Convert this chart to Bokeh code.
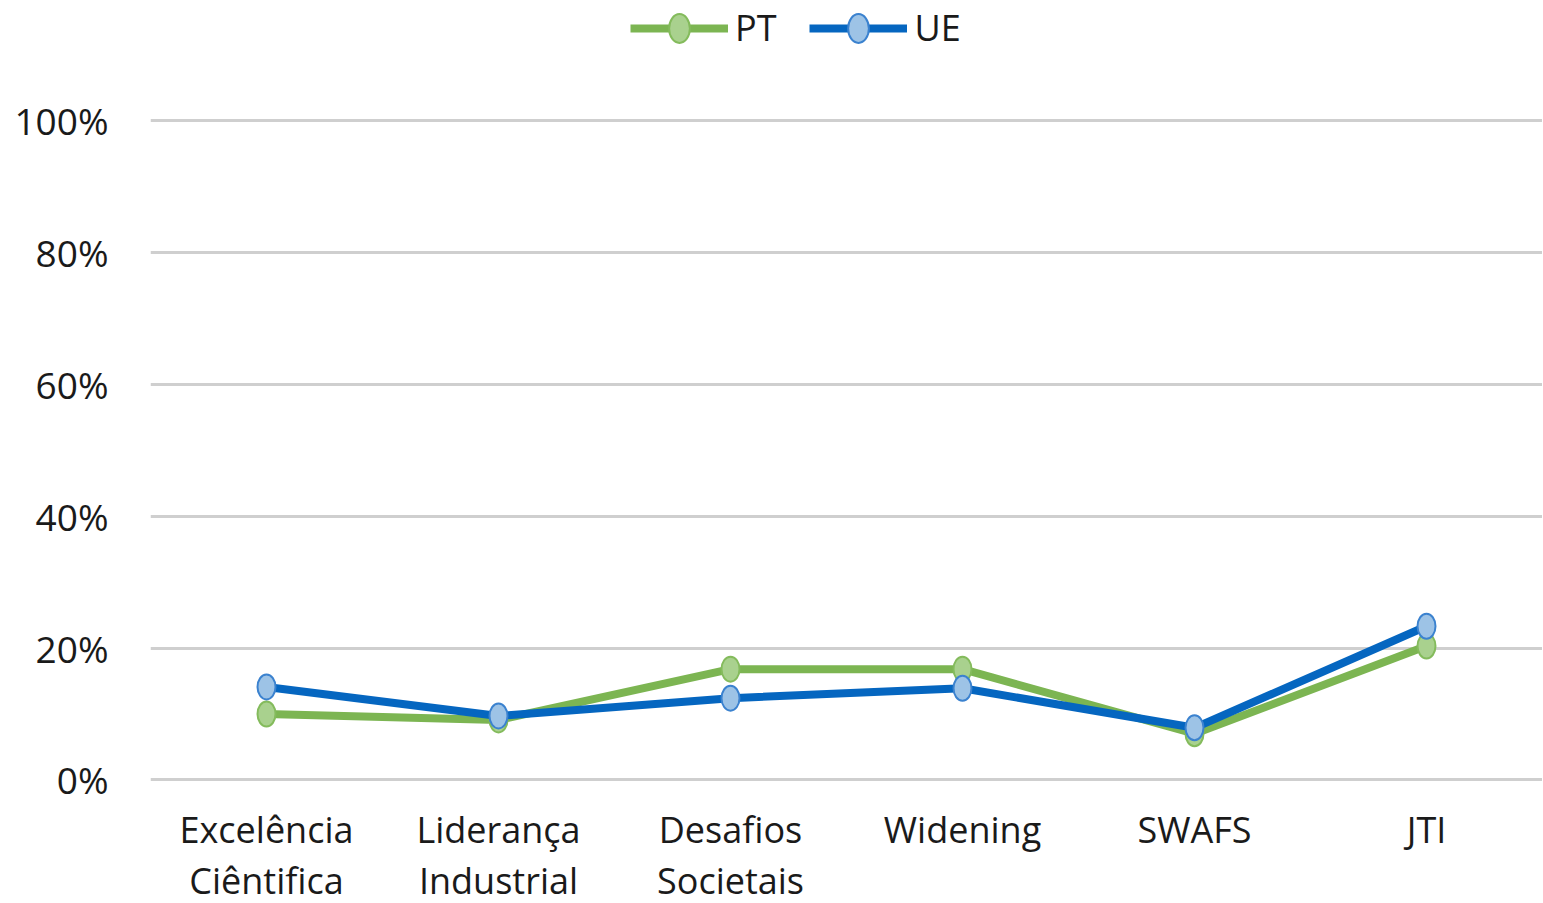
from bokeh.plotting import figure
from bokeh.models import Range1d, FixedTicker, Legend, LegendItem, ColumnDataSource
from bokeh.embed import file_html
from bokeh.resources import INLINE

categories = ["Excelência Ciêntifica", "Liderança Industrial", "Desafios Societais",
              "Widening", "SWAFS", "JTI"]
category_labels = ["Excelência\nCiêntifica", "Liderança\nIndustrial", "Desafios\nSocietais",
                   "Widening", "SWAFS", "JTI"]
pt_values = [0.100, 0.091, 0.168, 0.168, 0.070, 0.203]
ue_values = [0.141, 0.097, 0.124, 0.139, 0.079, 0.233]
y_ticks = [0.0, 0.2, 0.4, 0.6, 0.8, 1.0]
y_tick_labels = ["0%", "20%", "40%", "60%", "80%", "100%"]

FONT = "Open Sans"
TEXT = "#1a1a1a"

xpos = list(range(len(categories)))
src = ColumnDataSource(dict(x=xpos, cat=categories, pt=pt_values, ue=ue_values))

p = figure(x_range=Range1d(-0.5, len(categories) - 0.5), y_range=Range1d(-0.01, 1.182),
           frame_width=1392, frame_height=786,
           min_border_left=150, min_border_right=0, min_border_top=0, min_border_bottom=0,
           output_backend="svg", toolbar_location=None)
p.outline_line_color = None
p.background_fill_color = "white"

p.xgrid.grid_line_color = None
p.ygrid.grid_line_color = "#cfcfcf"
p.ygrid.grid_line_width = 3
p.yaxis.ticker = FixedTicker(ticks=y_ticks)
p.yaxis.major_label_overrides = {t: l for t, l in zip(y_ticks, y_tick_labels)}
p.yaxis.axis_line_color = None
p.yaxis.major_tick_line_color = None
p.yaxis.minor_tick_line_color = None
p.yaxis.major_label_standoff = 36
p.yaxis.major_label_text_font = FONT
p.yaxis.major_label_text_font_size = "37px"
p.yaxis.major_label_text_color = TEXT

p.xaxis.ticker = FixedTicker(ticks=xpos)
p.xaxis.major_label_overrides = {i: l for i, l in zip(xpos, category_labels)}
p.xaxis.axis_line_color = None
p.xaxis.major_tick_line_color = None
p.xaxis.minor_tick_line_color = None
p.xaxis.major_label_standoff = 12
p.xaxis.major_label_text_font = FONT
p.xaxis.major_label_text_font_size = "36px"
p.xaxis.major_label_text_color = TEXT
p.xaxis.major_label_text_line_height = 1.05

PT_LINE, PT_FILL, PT_EDGE = "#7cb552", "#a9d18e", "#84bb5c"
UE_LINE, UE_FILL, UE_EDGE = "#0566c0", "#9dc3e6", "#3b82cf"

pt_line = p.line("x", "pt", source=src, line_color=PT_LINE, line_width=8)
pt_mk = p.ellipse("x", "pt", source=src, width=18, height=25, width_units="screen",
                  height_units="screen", fill_color=PT_FILL, line_color=PT_EDGE, line_width=2)
ue_line = p.line("x", "ue", source=src, line_color=UE_LINE, line_width=8)
ue_mk = p.ellipse("x", "ue", source=src, width=18, height=25, width_units="screen",
                  height_units="screen", fill_color=UE_FILL, line_color=UE_EDGE, line_width=2)

legend = Legend(items=[LegendItem(label="PT", renderers=[pt_line, pt_mk]),
                       LegendItem(label="UE", renderers=[ue_line, ue_mk])],
                location=(480, 734), orientation="horizontal",
                glyph_width=98, glyph_height=36, label_standoff=7, spacing=33,
                padding=0, margin=0, border_line_color=None, background_fill_alpha=0,
                label_text_font=FONT, label_text_font_size="36px", label_text_color=TEXT)
p.add_layout(legend)

open("out.html", "w").write(file_html(p, INLINE))
